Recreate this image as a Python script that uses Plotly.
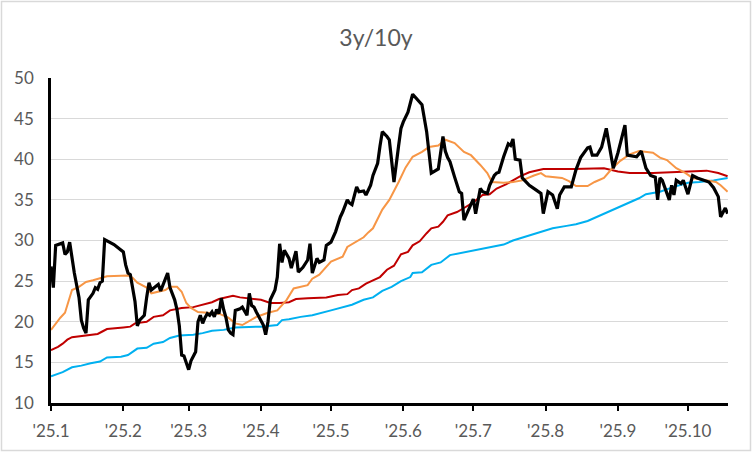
import plotly.graph_objects as go

# ---------------- data ----------------
spread_dates = [
    "2025-01-01","2025-01-02","2025-01-03","2025-01-06","2025-01-07","2025-01-08","2025-01-09",
    "2025-01-11","2025-01-13","2025-01-14","2025-01-15","2025-01-16","2025-01-17","2025-01-19",
    "2025-01-20","2025-01-21","2025-01-22","2025-01-23","2025-01-24","2025-01-28","2025-02-01",
    "2025-02-02","2025-02-03","2025-02-04","2025-02-06","2025-02-07","2025-02-08","2025-02-09",
    "2025-02-10","2025-02-11","2025-02-12","2025-02-13","2025-02-15","2025-02-16","2025-02-17",
    "2025-02-18","2025-02-20","2025-02-21","2025-02-23","2025-02-24","2025-02-25","2025-02-26",
    "2025-02-27","2025-03-01","2025-03-02","2025-03-04","2025-03-05","2025-03-06","2025-03-07",
    "2025-03-08","2025-03-09","2025-03-10","2025-03-11","2025-03-12","2025-03-13","2025-03-14",
    "2025-03-15","2025-03-16","2025-03-17","2025-03-18","2025-03-19","2025-03-20","2025-03-21",
    "2025-03-23","2025-03-24","2025-03-26","2025-03-27","2025-03-28","2025-03-29","2025-03-30",
    "2025-04-01","2025-04-02","2025-04-03","2025-04-04","2025-04-05","2025-04-06","2025-04-07",
    "2025-04-08","2025-04-09","2025-04-10","2025-04-11","2025-04-13","2025-04-14","2025-04-16",
    "2025-04-17","2025-04-19","2025-04-21","2025-04-22","2025-04-23","2025-04-25","2025-04-26",
    "2025-04-28","2025-04-29","2025-05-01","2025-05-03","2025-05-05","2025-05-06","2025-05-08",
    "2025-05-09","2025-05-10","2025-05-12","2025-05-13","2025-05-15","2025-05-16","2025-05-18",
    "2025-05-19","2025-05-21","2025-05-22","2025-05-23","2025-05-25","2025-05-26","2025-05-28",
    "2025-05-29","2025-05-30","2025-05-31","2025-06-01","2025-06-03","2025-06-05","2025-06-09",
    "2025-06-11","2025-06-13","2025-06-16","2025-06-18","2025-06-19","2025-06-20","2025-06-21",
    "2025-06-23","2025-06-25","2025-06-26","2025-06-27","2025-06-29","2025-07-01","2025-07-02",
    "2025-07-04","2025-07-05","2025-07-07","2025-07-08","2025-07-10","2025-07-11","2025-07-12",
    "2025-07-14","2025-07-16","2025-07-17","2025-07-18","2025-07-19","2025-07-21","2025-07-22",
    "2025-07-25","2025-07-28","2025-07-30","2025-07-31","2025-08-02","2025-08-04","2025-08-06",
    "2025-08-07","2025-08-09","2025-08-12","2025-08-14","2025-08-16","2025-08-19","2025-08-20",
    "2025-08-21","2025-08-23","2025-08-25","2025-08-27","2025-08-28","2025-08-30","2025-09-01",
    "2025-09-04","2025-09-05","2025-09-09","2025-09-11","2025-09-13","2025-09-15","2025-09-17",
    "2025-09-18","2025-09-19","2025-09-20","2025-09-23","2025-09-24","2025-09-25","2025-09-26",
    "2025-09-28","2025-09-29","2025-10-01","2025-10-03","2025-10-05","2025-10-10","2025-10-12",
    "2025-10-14","2025-10-15","2025-10-17","2025-10-18",
]
spread_values = [
    26.8, 24.2, 29.4, 29.7, 28.3, 28.6, 29.8,
    26.0, 23.0, 20.2, 19.2, 18.6, 22.7, 23.5,
    24.2, 24.0, 24.8, 25.0, 30.1, 29.5, 28.6,
    27.0, 26.0, 25.8, 22.5, 19.5, 20.2, 20.5,
    20.8, 23.0, 24.8, 23.9, 24.3, 24.6, 23.8,
    24.5, 26.0, 24.2, 22.7, 21.5, 19.5, 15.9,
    15.8, 14.1, 15.2, 16.3, 20.0, 20.8, 19.8,
    20.5, 21.0, 20.8, 21.2, 20.6, 21.5, 21.0,
    22.9, 21.5, 20.5, 19.0, 18.6, 18.4, 21.4,
    21.6, 21.8, 20.8, 23.5, 22.0, 21.8, 21.2,
    20.2, 19.6, 18.4, 20.0, 22.7, 23.3, 23.9,
    25.5, 29.6, 27.3, 28.8, 27.8, 26.6, 28.7,
    26.1, 26.7, 27.6, 29.6, 26.0, 27.8, 27.3,
    27.6, 29.4, 29.8, 31.1, 32.9, 33.5, 35.0,
    34.6, 34.4, 36.6, 36.0, 36.1, 35.6, 36.8,
    38.0, 39.5, 41.6, 43.4, 42.8, 42.4, 37.2,
    39.7, 41.7, 43.8, 44.6, 45.8, 48.0, 46.7,
    43.4, 38.3, 38.8, 42.8, 41.0, 40.2, 39.7,
    37.8, 36.0, 35.8, 32.5, 33.8, 35.1, 33.3,
    36.4, 36.0, 35.8, 36.8, 38.0, 38.3, 38.4,
    40.3, 41.9, 41.7, 42.5, 40.0, 39.9, 37.7,
    36.8, 36.2, 35.8, 33.3, 36.0, 35.6, 33.9,
    35.6, 36.6, 36.6, 38.7, 40.2, 41.4, 41.5,
    40.5, 40.5, 41.5, 43.8, 42.0, 38.9, 40.8,
    44.2, 40.5, 40.3, 41.0, 38.9, 38.0, 37.8,
    35.0, 37.7, 37.4, 35.0, 36.8, 35.6, 37.4,
    37.0, 37.4, 35.7, 38.0, 37.7, 37.2, 36.5,
    35.4, 32.9, 34.0, 33.3,
]

ma_orange_dates = [
    "2025-01-01","2025-01-03","2025-01-05","2025-01-07","2025-01-09","2025-01-10","2025-01-13",
    "2025-01-16","2025-01-19","2025-01-23","2025-01-25","2025-02-03","2025-02-05","2025-02-07",
    "2025-02-11","2025-02-13","2025-02-16","2025-02-19","2025-02-21","2025-02-24","2025-02-26",
    "2025-02-28","2025-03-02","2025-03-05","2025-03-09","2025-03-14","2025-03-18","2025-03-21",
    "2025-03-24","2025-03-27","2025-03-30","2025-04-01","2025-04-04","2025-04-08","2025-04-10",
    "2025-04-12","2025-04-15","2025-04-18","2025-04-21","2025-04-23","2025-04-26","2025-05-01",
    "2025-05-06","2025-05-08","2025-05-11","2025-05-15","2025-05-17","2025-05-19","2025-05-23",
    "2025-05-26","2025-05-30","2025-06-02","2025-06-05","2025-06-09","2025-06-12","2025-06-16",
    "2025-06-19","2025-06-23","2025-06-27","2025-06-30","2025-07-04","2025-07-07","2025-07-09",
    "2025-07-14","2025-07-18","2025-07-22","2025-07-27","2025-07-30","2025-08-01","2025-08-04",
    "2025-08-08","2025-08-11","2025-08-14","2025-08-19","2025-08-22","2025-08-26","2025-08-29",
    "2025-09-02","2025-09-06","2025-09-10","2025-09-16","2025-09-19","2025-09-22","2025-09-26",
    "2025-09-30","2025-10-03","2025-10-09","2025-10-13","2025-10-15","2025-10-18",
]
ma_orange_values = [
    19.0, 19.8, 20.5, 21.1, 22.9, 23.9, 24.3,
    24.9, 25.1, 25.4, 25.6, 25.7, 25.4, 24.8,
    24.2, 23.5, 23.7, 23.9, 24.3, 24.3, 23.7,
    22.3, 21.7, 21.2, 21.1, 21.0, 20.5, 19.8,
    19.6, 20.1, 20.6, 20.8, 21.1, 21.4, 22.1,
    22.7, 24.1, 24.3, 24.5, 25.3, 25.8, 27.4,
    28.0, 29.2, 29.7, 30.4, 31.0, 31.5, 33.8,
    35.0, 37.2, 39.0, 40.3, 40.9, 41.5, 41.7,
    42.4, 42.0, 40.9, 40.5, 39.3, 38.3, 37.2,
    37.1, 37.2, 37.4, 38.0, 38.3, 37.9, 37.8,
    37.7, 37.3, 36.7, 36.7, 37.2, 37.7, 38.7,
    39.8, 40.6, 41.0, 40.8, 40.2, 39.9, 38.9,
    38.3, 37.7, 37.4, 37.2, 36.8, 36.0,
]

ma_red_dates = [
    "2025-01-01","2025-01-04","2025-01-06","2025-01-08","2025-01-10","2025-01-15","2025-01-21",
    "2025-01-23","2025-01-25","2025-02-01","2025-02-04","2025-02-06","2025-02-11","2025-02-14",
    "2025-02-18","2025-02-21","2025-02-26","2025-03-03","2025-03-07","2025-03-11","2025-03-14",
    "2025-03-20","2025-03-23","2025-03-27","2025-04-01","2025-04-05","2025-04-09","2025-04-13",
    "2025-04-16","2025-04-21","2025-04-29","2025-05-04","2025-05-08","2025-05-10","2025-05-13",
    "2025-05-16","2025-05-19","2025-05-22","2025-05-25","2025-05-28","2025-05-31","2025-06-03",
    "2025-06-05","2025-06-08","2025-06-11","2025-06-13","2025-06-16","2025-06-18","2025-06-20",
    "2025-06-24","2025-06-27","2025-07-01","2025-07-05","2025-07-08","2025-07-11","2025-07-15",
    "2025-07-18","2025-07-21","2025-07-25","2025-07-31","2025-08-13","2025-08-26","2025-09-01",
    "2025-09-06","2025-09-16","2025-09-28","2025-10-09","2025-10-14","2025-10-18",
]
ma_red_values = [
    16.5, 16.9, 17.3, 17.8, 18.1, 18.3, 18.5,
    18.8, 19.1, 19.3, 19.4, 19.8, 20.0, 20.6,
    20.8, 21.4, 21.7, 21.8, 22.1, 22.4, 22.8,
    23.2, 23.0, 22.9, 22.7, 22.3, 22.3, 22.4,
    22.8, 22.9, 23.0, 23.3, 23.4, 23.9, 24.1,
    24.7, 25.1, 25.5, 26.4, 26.9, 28.3, 28.6,
    29.4, 29.9, 30.9, 31.5, 31.7, 32.3, 33.1,
    33.5, 34.0, 34.7, 35.6, 35.7, 36.4, 36.9,
    37.4, 37.9, 38.4, 38.8, 38.8, 38.9, 38.5,
    38.3, 38.3, 38.5, 38.6, 38.3, 37.9,
]

ma_blue_dates = [
    "2025-01-01","2025-01-04","2025-01-06","2025-01-10","2025-01-14","2025-01-18","2025-01-22",
    "2025-01-25","2025-01-31","2025-02-03","2025-02-05","2025-02-07","2025-02-11","2025-02-14",
    "2025-02-18","2025-02-21","2025-02-25","2025-03-03","2025-03-07","2025-03-11","2025-03-16",
    "2025-03-21","2025-04-01","2025-04-08","2025-04-10","2025-04-13","2025-04-18","2025-04-23",
    "2025-05-01","2025-05-05","2025-05-10","2025-05-15","2025-05-19","2025-05-23","2025-05-27",
    "2025-05-31","2025-06-04","2025-06-05","2025-06-09","2025-06-13","2025-06-17","2025-06-21",
    "2025-06-28","2025-07-07","2025-07-14","2025-07-18","2025-07-24","2025-07-30","2025-08-04",
    "2025-08-10","2025-08-14","2025-08-19","2025-08-23","2025-08-27","2025-09-01","2025-09-06",
    "2025-09-10","2025-09-13","2025-09-19","2025-09-25","2025-10-01","2025-10-06","2025-10-12",
    "2025-10-18",
]
ma_blue_values = [
    13.3, 13.6, 13.8, 14.4, 14.6, 14.9, 15.1,
    15.6, 15.7, 15.9, 16.3, 16.7, 16.8, 17.3,
    17.5, 18.0, 18.3, 18.4, 18.6, 18.9, 19.0,
    19.3, 19.4, 19.6, 20.2, 20.3, 20.6, 20.8,
    21.4, 21.7, 22.1, 22.7, 23.0, 23.8, 24.3,
    25.0, 25.5, 26.0, 26.1, 27.0, 27.3, 28.2,
    28.6, 29.1, 29.5, 30.0, 30.5, 31.0, 31.5,
    31.8, 32.0, 32.4, 32.9, 33.4, 34.0, 34.7,
    35.2, 35.7, 36.0, 36.6, 37.1, 37.2, 37.4,
    37.7,
]

tick_dates = ["2025-01-01","2025-02-01","2025-03-01","2025-04-01","2025-05-01",
              "2025-06-01","2025-07-01","2025-08-01","2025-09-01","2025-10-01"]
tick_labels = ["'25.1","'25.2","'25.3","'25.4","'25.5","'25.6","'25.7","'25.8","'25.9","'25.10"]

title_text = "3y/10y"

# ---------------- figure ----------------
FONT = "Lato, Carlito, Calibri, 'Open Sans', sans-serif"
GRAY = "#595959"

fig = go.Figure()
fig.add_trace(go.Scatter(x=ma_blue_dates, y=ma_blue_values, mode="lines",
                         line=dict(color="#00B0F0", width=2), showlegend=False))
fig.add_trace(go.Scatter(x=ma_red_dates, y=ma_red_values, mode="lines",
                         line=dict(color="#C00000", width=2), showlegend=False))
fig.add_trace(go.Scatter(x=ma_orange_dates, y=ma_orange_values, mode="lines",
                         line=dict(color="#F79646", width=2), showlegend=False))
fig.add_trace(go.Scatter(x=spread_dates, y=spread_values, mode="lines",
                         line=dict(color="#000000", width=3.2), showlegend=False))

fig.update_layout(
    width=752, height=452,
    margin=dict(l=51, r=24, t=78, b=49),
    paper_bgcolor="white", plot_bgcolor="white",
    title=dict(text=title_text, x=0.5, xref="container", xanchor="center",
               y=1 - 38 / 452, yref="container", yanchor="middle",
               font=dict(family=FONT, size=23, color=GRAY)),
    font=dict(family=FONT, size=17, color=GRAY),
    xaxis=dict(type="date", range=["2025-01-01", "2025-10-18 04:00"],
               tickvals=tick_dates, ticktext=tick_labels,
               showgrid=False, zeroline=False,
               showline=True, linecolor="black", linewidth=2.5,
               ticks="outside", ticklen=5, tickwidth=2, tickcolor="black",
               ticklabelstandoff=6,
               tickfont=dict(family=FONT, size=17, color=GRAY)),
    yaxis=dict(range=[10, 50], dtick=5, tick0=10,
               showgrid=True, gridcolor="#D9D9D9", gridwidth=1.3,
               zeroline=False, showline=True, linecolor="black", linewidth=2.5,
               ticks="", ticklabelstandoff=11,
               tickfont=dict(family=FONT, size=17, color=GRAY)),
    shapes=[dict(type="rect", xref="paper", yref="paper",
                 x0=(1.5 - 51) / 677, x1=(750.5 - 51) / 677,
                 y0=(403 - 450.5) / 325, y1=(403 - 1.5) / 325,
                 line=dict(color="#D9D9D9", width=1.5), fillcolor="rgba(0,0,0,0)",
                 layer="below")],
)

fig.write_html("out.html")
